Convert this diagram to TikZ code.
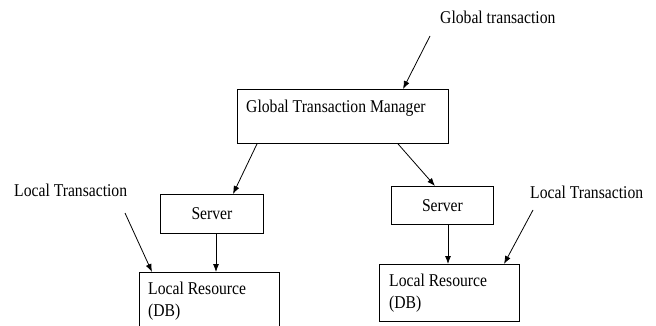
\documentclass[tikz,border=0pt]{standalone}
\usepackage{fontspec}
\setmainfont{Liberation Serif}[FakeStretch=0.87]
\usetikzlibrary{arrows.meta}
\begin{document}
\begin{tikzpicture}[x=1pt, y=-1pt,
  font=\fontsize{18}{22}\selectfont,
  box/.style={draw, line width=0.9pt, inner sep=0pt, anchor=north west},
  conn/.style={-{Latex[length=8pt,width=6pt]}, line width=0.8pt},
  txt/.style={inner sep=0pt, anchor=west, align=left}]
\clip (0,0) rectangle (656,326);

% boxes
\node[box, minimum width=211pt, minimum height=54pt] (gtm) at (237,89) {};
\node[box, minimum width=103pt, minimum height=39pt] (srvL) at (160,194) {Server};
\node[box, minimum width=102pt, minimum height=38pt] (srvR) at (391,186) {Server};
\node[box, minimum width=140pt, minimum height=70pt] (lrL) at (139,272) {};
\node[box, minimum width=140pt, minimum height=57pt] (lrR) at (379,264) {};

% box texts
\node[txt] (gtmtext) at (246,108) {Global Transaction Manager};
\node[txt] (lrLtext) at (148,301) {Local Resource\\(DB)};
\node[txt] (lrRtext) at (389,293) {Local Resource\\(DB)};

% free labels
\node[txt] (gt) at (440,17) {Global transaction};
\node[txt] (ltL) at (14,190) {Local Transaction};
\node[txt] (ltR) at (530,192) {Local Transaction};

\coordinate (gtA) at (430,36);
\coordinate (ltLA) at (125,213);
\coordinate (ltRA) at (533,210);

% connectors
\draw[conn] (gtA) -- ([xshift=166pt]gtm.north west);
\draw[conn] ([xshift=20pt]gtm.south west) -- ([xshift=73pt]srvL.north west);
\draw[conn] ([xshift=161pt]gtm.south west) -- ([xshift=44pt]srvR.north west);
\draw[conn] ([xshift=56pt]srvL.south west) -- ([xshift=77pt]lrL.north west);
\draw[conn] ([xshift=57pt]srvR.south west) -- ([xshift=69pt]lrR.north west);
\draw[conn] (ltLA) -- ([xshift=13pt]lrL.north west);
\draw[conn] (ltRA) -- ([xshift=125pt]lrR.north west);
\end{tikzpicture}
\end{document}
